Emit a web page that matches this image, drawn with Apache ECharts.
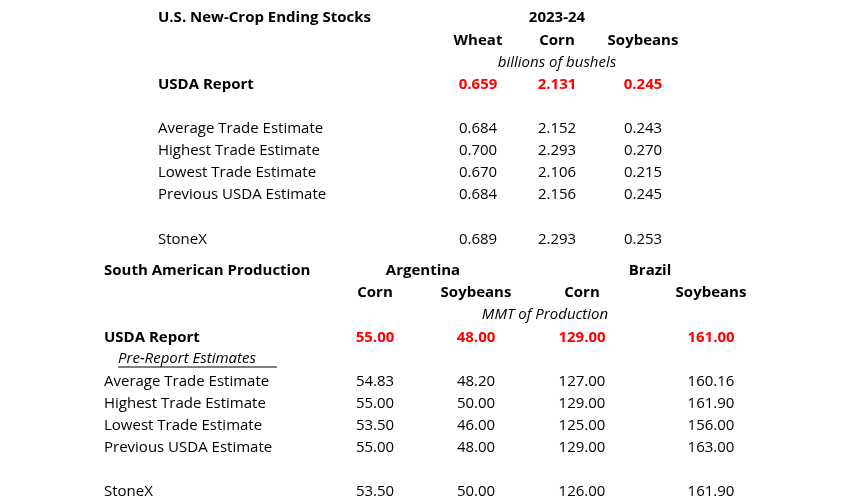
<!DOCTYPE html>
<html><head><meta charset="utf-8">
<script src="https://cdn.jsdelivr.net/npm/echarts@6/dist/echarts.min.js"></script>
<style>html,body{margin:0;padding:0;background:#fff}#c{width:861px;height:502px}</style>
</head><body><div id="c"></div>
<script>
// ---- data ----
const usTitle = "U.S. New-Crop Ending Stocks";
const usYear = "2023-24";
const usCrops = ["Wheat", "Corn", "Soybeans"];
const usUnit = "billions of bushels";
const usUsda = ["0.659", "2.131", "0.245"];
const usRowLabels = ["Average Trade Estimate", "Highest Trade Estimate", "Lowest Trade Estimate", "Previous USDA Estimate"];
const usRows = [["0.684","2.152","0.243"],["0.700","2.293","0.270"],["0.670","2.106","0.215"],["0.684","2.156","0.245"]];
const usStoneX = ["0.689", "2.293", "0.253"];

const saTitle = "South American Production";
const saCountries = ["Argentina", "Brazil"];
const saCrops = ["Corn", "Soybeans", "Corn", "Soybeans"];
const saUnit = "MMT of Production";
const saUsda = ["55.00", "48.00", "129.00", "161.00"];
const saPre = "Pre-Report Estimates";
const saRowLabels = ["Average Trade Estimate", "Highest Trade Estimate", "Lowest Trade Estimate", "Previous USDA Estimate"];
const saRows = [["54.83","48.20","127.00","160.16"],["55.00","50.00","129.00","161.90"],["53.50","46.00","125.00","156.00"],["55.00","48.00","129.00","163.00"]];
const saStoneX = ["53.50", "50.00", "126.00", "161.90"];

// ---- layout ----
const F = "'Open Sans', 'Liberation Sans', Arial, sans-serif";
const g = [];
function t(text, x, y, o) {
  o = o || {};
  g.push({type:'text', x:x, y:y+1, style:{text:text, fill:o.fill||'#000', font:(o.italic?'italic ':'')+(o.bold?'bold ':'')+'15px '+F, textAlign:o.align||'left', textVerticalAlign:'middle'}});
}
const usX = [478, 557, 643];
t(usTitle, 158, 17, {bold:true});
t(usYear, 557, 17, {bold:true, align:'center'});
usCrops.forEach((c,i)=>t(c, usX[i], 40, {bold:true, align:'center'}));
t(usUnit, 557, 62, {italic:true, align:'center'});
t("USDA Report", 158, 84, {bold:true});
usUsda.forEach((v,i)=>t(v, usX[i], 84, {bold:true, fill:'#ff0000', align:'center'}));
usRowLabels.forEach((l,r)=>{
  const y = 128 + r*22;
  t(l, 158, y);
  usRows[r].forEach((v,i)=>t(v, usX[i], y, {align:'center'}));
});
t("StoneX", 158, 239);
usStoneX.forEach((v,i)=>t(v, usX[i], 239, {align:'center'}));

const saX = [375, 476, 582, 711];
const saCX = [423, 650];
t(saTitle, 104, 270, {bold:true});
saCountries.forEach((c,i)=>t(c, saCX[i], 270, {bold:true, align:'center'}));
saCrops.forEach((c,i)=>t(c, saX[i], 292, {bold:true, align:'center'}));
t(saUnit, 545, 314, {italic:true, align:'center'});
t("USDA Report", 104, 337, {bold:true});
saUsda.forEach((v,i)=>t(v, saX[i], 337, {bold:true, fill:'#ff0000', align:'center'}));
t(saPre, 118, 358, {italic:true});
g.push({type:'line', shape:{x1:118, y1:367, x2:277, y2:367}, style:{stroke:'#000', lineWidth:1}});
saRowLabels.forEach((l,r)=>{
  const y = 381 + r*22;
  t(l, 104, y);
  saRows[r].forEach((v,i)=>t(v, saX[i], y, {align:'center'}));
});
t("StoneX", 104, 491);
saStoneX.forEach((v,i)=>t(v, saX[i], 491, {align:'center'}));

const chart = echarts.init(document.getElementById('c'));
chart.setOption({backgroundColor:'#fff', animation:false, graphic:g});
</script></body></html>
